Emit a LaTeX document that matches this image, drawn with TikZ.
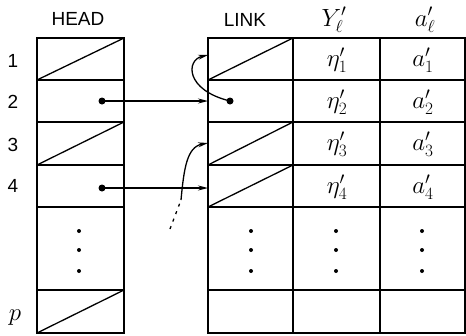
\documentclass[tikz,border=0pt]{standalone}
\usepackage{fontspec}
\setsansfont{Liberation Sans}
\usetikzlibrary{arrows.meta, calc}

\begin{document}
\begin{tikzpicture}[x=1pt, y=-1pt, font=\sffamily\fontsize{19}{22}\selectfont]

    % Styles
    \tikzstyle{grid} = [draw=black, line width=1.8pt]
    \tikzstyle{nil} = [draw=black, line width=1.3pt]
    \tikzstyle{ptr} = [circle, fill=black, inner sep=0pt, minimum size=7pt]
    \tikzstyle{vdot} = [circle, fill=black, inner sep=0pt, minimum size=4pt]
    \tikzstyle{link} = [draw=black, line width=1.3pt, -{Stealth[length=10pt, width=5pt]}]
    \tikzstyle{title} = [anchor=base, inner sep=0pt]
    \tikzstyle{entry} = [inner sep=0pt, font=\fontsize{23}{26}\selectfont]

    \useasboundingbox (0,0) rectangle (466,335);

    % --- HEAD TABLE ---
    \draw[grid] (37,38) rectangle (124,333);
    \foreach \y in {80, 122, 165, 207, 290} {
        \draw[grid] (37,\y) -- (124,\y);
    }
    \foreach \yb/\yt in {80/38, 165/122, 333/290} {
        \draw[nil] (37,\yb) -- (124,\yt); % nil pointer
    }
    \node[title] (headtitle) at (78,25) {HEAD};

    % Row numbers
    \node[title] (r1) at (13,67) {1};
    \node[title] (r2) at (13,108) {2};
    \node[title] (r3) at (13,151) {3};
    \node[title] (r4) at (13,192) {4};
    \node[title, font=\fontsize{23}{26}\selectfont] (rp) at (15,320) {$p$};

    % --- LINK / Y / a TABLE ---
    \draw[grid] (208,38) rectangle (465,333);
    \foreach \y in {80, 122, 165, 207, 290} {
        \draw[grid] (208,\y) -- (465,\y);
    }
    \foreach \x in {293, 380} {
        \draw[grid] (\x,38) -- (\x,333);
    }
    \foreach \yb/\yt in {80/38, 165/122, 207/165} {
        \draw[nil] (208,\yb) -- (293,\yt); % nil pointer
    }
    \node[title] (linktitle) at (245,26) {LINK};
    \node[title, font=\fontsize{23}{26}\selectfont] (ytitle) at (334,26) {$Y'_\ell$};
    \node[title, font=\fontsize{23}{26}\selectfont] (atitle) at (425,26) {$a'_\ell$};

    % Cell entries
    \foreach \i/\y in {1/60, 2/102, 3/144, 4/187} {
        \node[entry] (eta\i) at (337,\y) {$\eta'_\i$};
        \node[entry] (a\i) at (423,\y) {$a'_\i$};
    }

    % Vertical dots
    \foreach \x in {79, 251, 336, 422} {
        \foreach \y in {231, 250, 271} {
            \node[vdot] (d-\x-\y) at (\x,\y) {};
        }
    }

    % --- POINTERS ---
    \node[ptr] (h2) at (102,101) {};
    \node[ptr] (h4) at (102,188) {};
    \node[ptr] (l2) at (230,101) {};

    \coordinate (l1in) at (208,55);
    \coordinate (l2in) at (208,101);
    \coordinate (l3in) at (208,143);
    \coordinate (l4in) at (208,188);
    \coordinate (bend) at (181,200);
    \coordinate (tail) at (170,229);

    \draw[link] (h2.center) -- (l2in);
    \draw[link] (h4.center) -- (l4in);
    \draw[link] (l2.center) .. controls (185,90) and (186,60) .. (l1in);
    \draw[link] (bend) .. controls (184,168) and (187,147) .. (l3in);
    \draw[line width=1.3pt, dash pattern=on 3pt off 5pt] (tail) -- (bend);

\end{tikzpicture}
\end{document}
